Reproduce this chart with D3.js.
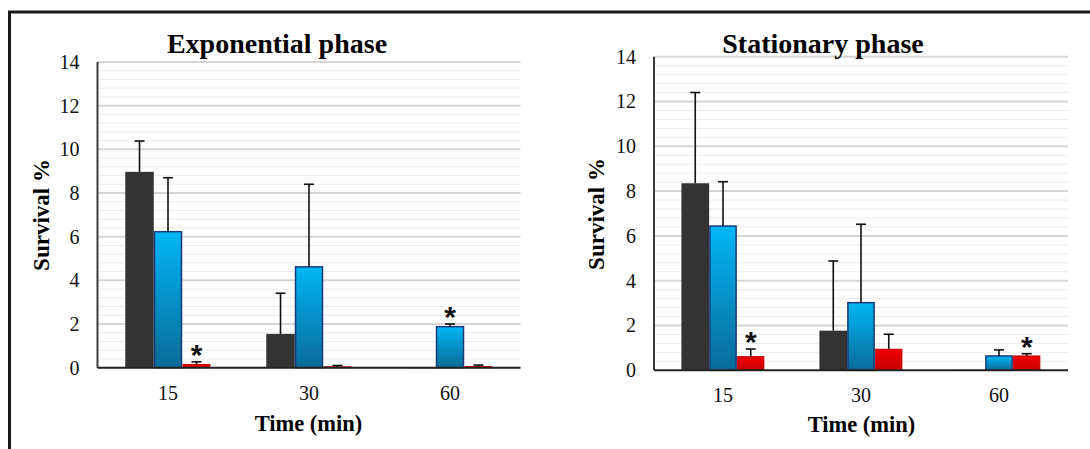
<!DOCTYPE html>
<html>
<head>
<meta charset="utf-8">
<script src="https://cdn.jsdelivr.net/npm/d3@7"></script>
<style>
  html, body { margin: 0; padding: 0; background: #fff; }
  svg { display: block; }
</style>
</head>
<body>
<div id="chart"></div>
<script>
// ---------- DATA ----------
const categories = ["15", "30", "60"];
const seriesKeys = ["dark", "blue", "red"];
const yTicks = [0, 2, 4, 6, 8, 10, 12, 14];

// Exponential phase (means and upper error bar lengths)
const expDark = [8.97, 1.55, 0.01];
const expBlue = [6.23, 4.62, 1.88];
const expRed  = [0.15, 0.04, 0.05];
const expDarkErr = [1.41, 1.86, 0];
const expBlueErr = [2.47, 3.78, 0.12];
const expRedErr  = [0.12, 0.06, 0.07];
const expStars = { dark: [false, false, false], blue: [false, false, true], red: [true, false, false] };

// Stationary phase
const statDark = [8.35, 1.77, 0.02];
const statBlue = [6.44, 3.02, 0.64];
const statRed  = [0.61, 0.94, 0.64];
const statDarkErr = [4.05, 3.11, 0];
const statBlueErr = [1.98, 3.50, 0.27];
const statRedErr  = [0.34, 0.67, 0.10];
const statStars = { dark: [false, false, false], blue: [false, false, false], red: [true, false, true] };

// ---------- SETUP ----------
const W = 1090, H = 449;
const svg = d3.select("#chart").append("svg").attr("width", W).attr("height", H);
const defs = svg.append("defs");

const blueGrad = defs.append("linearGradient").attr("id", "gBlue").attr("x1", 0).attr("y1", 0).attr("x2", 0).attr("y2", 1);
blueGrad.append("stop").attr("offset", "0%").attr("stop-color", "#00b6f6");
blueGrad.append("stop").attr("offset", "100%").attr("stop-color", "#0a6b98");
const redGrad = defs.append("linearGradient").attr("id", "gRed").attr("x1", 0).attr("y1", 0).attr("x2", 0).attr("y2", 1);
redGrad.append("stop").attr("offset", "0%").attr("stop-color", "#f00000");
redGrad.append("stop").attr("offset", "100%").attr("stop-color", "#c80000");

const fills = { dark: "#333333", blue: "url(#gBlue)", red: "url(#gRed)" };
const strokes = { dark: "none", blue: "#1c3a78", red: "#c00000" };

// outer frame (left + top edges visible)
svg.append("path")
  .attr("d", `M9.5,${H} V12 H${W}`)
  .attr("fill", "none").attr("stroke", "#1a1a1a").attr("stroke-width", 3);

const serif = "'Liberation Serif', 'Times New Roman', serif";

function drawPanel(cfg) {
  const g = svg.append("g");
  const y = d3.scaleLinear().domain([0, 14]).range([cfg.yBottom, cfg.yTop]);
  const x = d3.scaleBand().domain(categories).range([cfg.x0, cfg.x1])
    .paddingInner(cfg.pad).paddingOuter(cfg.pad / 2);
  const xs = d3.scaleBand().domain(seriesKeys).range([0, x.bandwidth()]).padding(0);

  // minor gridlines
  const minor = d3.range(1, 36).filter(i => i % 5 !== 0).map(i => i * 0.4);
  g.append("g").selectAll("line").data(minor).join("line")
    .attr("x1", cfg.x0).attr("x2", cfg.x1)
    .attr("y1", d => y(d)).attr("y2", d => y(d))
    .attr("stroke", "#ececec").attr("stroke-width", 1);
  // major gridlines
  g.append("g").selectAll("line").data(yTicks.filter(d => d > 0)).join("line")
    .attr("x1", cfg.x0).attr("x2", cfg.x1)
    .attr("y1", d => y(d)).attr("y2", d => y(d))
    .attr("stroke", "#d6d6d6").attr("stroke-width", 2);

  const rows = [];
  categories.forEach((c, i) => {
    seriesKeys.forEach(k => {
      rows.push({ cat: c, key: k, v: cfg.means[k][i], e: cfg.errs[k][i], star: cfg.stars[k][i] });
    });
  });

  // bars
  g.append("g").selectAll("rect").data(rows).join("rect")
    .attr("x", d => x(d.cat) + xs(d.key) + (d.key === "dark" ? 0 : 0.75))
    .attr("width", d => xs.bandwidth() - (d.key === "dark" ? 0 : 1.5))
    .attr("y", d => y(d.v))
    .attr("height", d => Math.max(0.8, y(0) - y(d.v)))
    .attr("fill", d => fills[d.key])
    .attr("stroke", d => strokes[d.key])
    .attr("stroke-width", d => d.key === "blue" ? 1.5 : 1);

  // error bars
  const eb = g.append("g").selectAll("g").data(rows.filter(d => d.e > 0)).join("g")
    .attr("stroke", "#111").attr("stroke-width", 1.6);
  eb.append("line")
    .attr("x1", d => x(d.cat) + xs(d.key) + xs.bandwidth() / 2)
    .attr("x2", d => x(d.cat) + xs(d.key) + xs.bandwidth() / 2)
    .attr("y1", d => y(d.v)).attr("y2", d => y(d.v + d.e));
  eb.append("line")
    .attr("x1", d => x(d.cat) + xs(d.key) + xs.bandwidth() / 2 - 5)
    .attr("x2", d => x(d.cat) + xs(d.key) + xs.bandwidth() / 2 + 5)
    .attr("y1", d => y(d.v + d.e)).attr("y2", d => y(d.v + d.e));

  // significance stars
  g.append("g").selectAll("text").data(rows.filter(d => d.star)).join("text")
    .attr("x", d => x(d.cat) + xs(d.key) + xs.bandwidth() / 2)
    .attr("y", d => y(d.v + d.e) + 3)
    .attr("text-anchor", "middle")
    .attr("font-family", "'Liberation Sans', Arial, sans-serif")
    .attr("font-weight", "bold").attr("font-size", 30)
    .attr("fill", "#111").text("*");

  // y axis
  const ya = g.append("g").attr("transform", `translate(${cfg.x0},0)`)
    .call(d3.axisLeft(y).tickValues(yTicks).tickSize(0).tickPadding(18));
  ya.attr("font-family", serif).attr("font-size", 20);
  ya.select(".domain").remove();
  ya.selectAll("text").attr("font-family", serif).attr("font-size", 20).attr("fill", "#111");
  g.append("line").attr("x1", cfg.x0).attr("x2", cfg.x0).attr("y1", cfg.yTop).attr("y2", cfg.yBottom)
    .attr("stroke", "#3a3a3a").attr("stroke-width", 2);

  // x axis
  const xa = g.append("g").attr("transform", `translate(0,${cfg.yBottom})`)
    .call(d3.axisBottom(x).tickSize(0).tickPadding(cfg.xTickPad));
  xa.attr("font-family", serif).attr("font-size", 20);
  xa.select(".domain").remove();
  xa.selectAll("text").attr("font-family", serif).attr("font-size", 20).attr("fill", "#111");
  g.append("line").attr("x1", cfg.x0).attr("x2", cfg.x1).attr("y1", cfg.yBottom).attr("y2", cfg.yBottom)
    .attr("stroke", "#222").attr("stroke-width", 2);

  // titles
  g.append("text").attr("x", cfg.titleX).attr("y", cfg.titleY).attr("text-anchor", "middle")
    .attr("font-family", serif).attr("font-weight", "bold").attr("font-size", 28)
    .attr("fill", "#000").text(cfg.title);
  g.append("text").attr("x", cfg.xlabX).attr("y", cfg.xlabY).attr("text-anchor", "middle")
    .attr("font-family", serif).attr("font-weight", "bold").attr("font-size", 22.5)
    .attr("fill", "#000").text("Time (min)");
  g.append("text").attr("transform", `translate(${cfg.ylabX},${cfg.ylabY}) rotate(-90)`)
    .attr("text-anchor", "middle")
    .attr("font-family", serif).attr("font-weight", "bold").attr("font-size", 23)
    .attr("fill", "#000").text("Survival %");
}

drawPanel({
  x0: 97.5, x1: 520.5, yBottom: 367.7, yTop: 62, pad: 0.394, xTickPad: 18,
  means: { dark: expDark, blue: expBlue, red: expRed },
  errs: { dark: expDarkErr, blue: expBlueErr, red: expRedErr },
  stars: expStars,
  title: "Exponential phase", titleX: 277, titleY: 53,
  xlabX: 308.5, xlabY: 430.5, ylabX: 48.5, ylabY: 215
});

drawPanel({
  x0: 654, x1: 1068, yBottom: 370.3, yTop: 56.7, pad: 0.397, xTickPad: 18,
  means: { dark: statDark, blue: statBlue, red: statRed },
  errs: { dark: statDarkErr, blue: statBlueErr, red: statRedErr },
  stars: statStars,
  title: "Stationary phase", titleX: 823, titleY: 52.5,
  xlabX: 861.5, xlabY: 432, ylabX: 604, ylabY: 214
});
</script>
</body>
</html>
